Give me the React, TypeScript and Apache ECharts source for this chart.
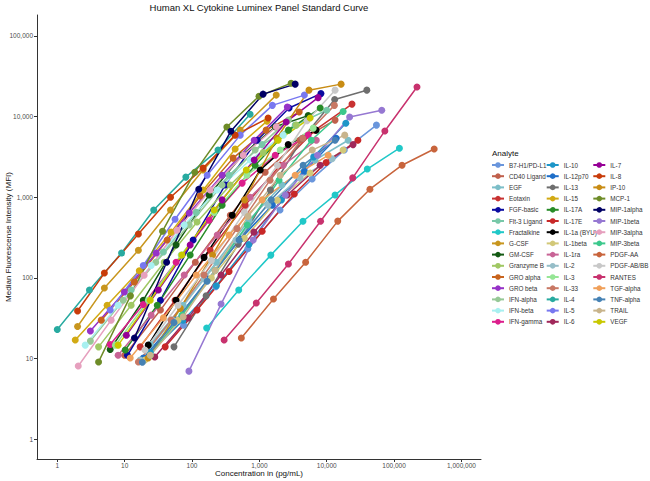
import React, { useEffect, useRef } from "react";
import * as echarts from "echarts";

const analytes: string[] = [
  "B7-H1/PD-L1", "CD40 Ligand", "EGF", "Eotaxin", "FGF-basic", "Flt-3 Ligand", "Fractalkine", "G-CSF", "GM-CSF", "Granzyme B", "GRO alpha", "GRO beta", "IFN-alpha", "IFN-beta", "IFN-gamma",
  "IL-10", "IL-12p70", "IL-13", "IL-15", "IL-17A", "IL-17E", "IL-1a (BYU)", "IL-1beta", "IL-1ra", "IL-2", "IL-3", "IL-33", "IL-4", "IL-5", "IL-6",
  "IL-7", "IL-8", "IP-10", "MCP-1", "MIP-1alpha", "MIP-1beta", "MIP-3alpha", "MIP-3beta", "PDGF-AA", "PDGF-AB/BB", "RANTES", "TGF-alpha", "TNF-alpha", "TRAIL", "VEGF",
];

const analyteColors: string[] = [
  "#6A96DC", "#C0604C", "#7CBEC8", "#C83232", "#0A0AA0", "#78C8A8", "#20C8C8", "#C8961E", "#145A14", "#A0C864", "#C8641E", "#9632C8", "#96C896", "#A8F0F0", "#DC1E8C",
  "#1E96C8", "#1E6EC8", "#6E6E6E", "#D2AA14", "#288C28", "#C82828", "#000000", "#D2C878", "#C86496", "#96BEC8", "#96E696", "#C87864", "#28AAA0", "#7878F0", "#A0285A",
  "#960096", "#C83C0A", "#C88C14", "#6E8C28", "#000064", "#9678D2", "#E6A0BE", "#3CC88C", "#C8643C", "#C8C8C8", "#C8326E", "#F0A05A", "#4682B4", "#C8B48C", "#C8C800",
];

// Standard concentrations (pg/mL), one list per analyte, same order as `analytes`
const concentrations: number[][] = [
  [75, 225, 675, 2025, 6075, 18225, 54675],
  [10, 34, 112, 370, 1220, 4000, 13300],
  [24, 74, 230, 700, 2170, 6700, 20800],
  [17, 56, 186, 616, 2040, 6700, 23700],
  [11, 34, 104, 310, 930, 2760, 8200],
  [12.5, 37.6, 116, 355, 1100, 3400, 10000],
  [165, 494, 1480, 4440, 13300, 40000, 120000],
  [2, 5, 16, 48, 146, 520, 1780],
  [6.1, 18.9, 58, 180, 555, 1720, 5300],
  [4.1, 12.5, 38.6, 119, 370, 1140, 3520],
  [4.5, 13.9, 42.8, 132, 408, 1260, 3900],
  [3.1, 9.9, 29.4, 91, 280, 838, 2600],
  [3.1, 9.5, 29, 91, 280, 865, 2700],
  [2.6, 8, 24.8, 76.6, 237, 730, 2260],
  [6.1, 18.9, 58, 180, 555, 1720, 5300],
  [24, 74, 230, 700, 2130, 6400, 19200],
  [18.9, 58, 174, 520, 1560, 4660, 13800],
  [54, 162, 486, 1458, 4374, 13122, 39366],
  [1.85, 5.5, 16.5, 49, 147, 437, 1300],
  [10.2, 30.5, 94, 280, 865, 2700, 8000],
  [40, 119, 355, 1100, 3300, 9800, 29000],
  [22.4, 58, 151, 395, 1030, 2680, 6950],
  [20, 62, 194, 600, 1850, 5670, 17500],
  [8, 24.8, 76.6, 237, 730, 2260, 7000],
  [17, 51, 151, 450, 1340, 4000, 12000],
  [7.3, 22.4, 69, 213, 655, 2040, 6300],
  [16, 49, 151, 465, 1440, 4400, 13000],
  [1, 3, 9, 27, 81, 243, 729],
  [6.1, 18.9, 56, 168, 520, 1560, 4660],
  [28, 88, 270, 830, 2600, 7980, 24600],
  [10.6, 31.6, 94, 280, 838, 2500, 7450],
  [2, 5, 16, 48, 146, 437, 1350],
  [22.4, 67, 202, 605, 1815, 5445, 16335],
  [4.1, 12.2, 36.5, 110, 329, 987, 2960],
  [14, 42, 126, 378, 1134, 3402],
  [90, 270, 810, 2430, 7290, 21870, 65610],
  [2.05, 6.3, 19.5, 60, 186, 575, 1780],
  [24, 71, 220, 660, 1960, 5900, 17500],
  [540, 1620, 4860, 14580, 43740, 131220, 393660],
  [20, 62, 194, 600, 1850, 5100, 13300],
  [300, 900, 2700, 8100, 24300, 72900, 218700],
  [12.1, 37.6, 116, 355, 1100, 3400, 10500],
  [18.3, 54, 168, 500, 1500, 4460, 13300],
  [24, 74, 220, 680, 2040, 6100, 18500],
  [8, 24, 71, 213, 640, 1900, 5670],
];

// Median fluorescence intensity, one list per analyte
const mfiValues: number[][] = [
  [26, 78, 230, 695, 1690, 3850, 7850],
  [11, 40, 157, 600, 2050, 5100, 9060],
  [15, 46, 157, 520, 1420, 2900, 5100],
  [14, 53, 221, 800, 2500, 6800, 14300],
  [11, 53, 295, 1420, 5100, 12800, 19300],
  [71, 210, 650, 1880, 4500, 7850, 12000],
  [24, 71, 192, 505, 1070, 2240, 4060],
  [25, 75, 221, 695, 2180, 6800, 18500],
  [13, 53, 257, 1070, 3320, 7500, 10300],
  [14, 46, 157, 495, 1420, 3600, 7850],
  [30, 89, 295, 1040, 3060, 6800, 11400],
  [22, 67, 204, 640, 1880, 5100, 13200],
  [16.5, 53, 157, 453, 1420, 3850, 9060],
  [14.7, 46, 143, 453, 1230, 2900, 5900],
  [15, 47, 157, 520, 1500, 3320, 5900],
  [12, 30, 80, 260, 930, 3170, 8300],
  [10.2, 30, 97, 303, 800, 2100, 5400],
  [14, 60, 263, 1230, 5400, 16300, 21300],
  [17, 46, 123, 370, 1230, 3970, 8800],
  [12.8, 46, 193, 800, 2500, 6800, 12800],
  [14, 40, 120, 380, 1100, 2700, 5100],
  [14.7, 53, 180, 600, 2180, 4500, 6800],
  [9.6, 30, 100, 310, 920, 2000, 3850],
  [11, 34.6, 109, 340, 1000, 2500, 5100],
  [9.6, 30, 97, 295, 800, 1740, 3000],
  [14.7, 53, 193, 650, 1880, 3850, 7200],
  [9.1, 30, 109, 410, 1630, 5400, 13800],
  [23, 71, 204, 695, 1780, 3850, 10700],
  [40, 143, 535, 1880, 5900, 13800, 18500],
  [10.5, 32, 109, 370, 1070, 2500, 4500],
  [19.5, 71, 257, 930, 2900, 8600, 17200],
  [39, 115, 350, 1000, 2300, 5900, 9600],
  [10.2, 42, 193, 930, 5400, 21300, 25300],
  [9.1, 60, 380, 2050, 7450, 17900, 26000],
  [18, 157, 1260, 6600, 19000, 25300],
  [7, 47.5, 295, 1070, 3320, 9900, 12000],
  [8.1, 30, 108, 390, 1230, 3320, 7500],
  [11, 34.6, 124, 453, 1630, 5100, 11600],
  [18, 55, 157, 507, 1260, 2500, 3970],
  [12.8, 46, 165, 650, 2500, 8900, 21300],
  [17, 49, 149, 505, 1740, 6650, 23300],
  [10.2, 32, 109, 340, 930, 1880, 3320],
  [9, 28, 91, 295, 930, 2500, 5100],
  [11, 33, 124, 580, 1880, 3850, 5900],
  [14.7, 53, 193, 695, 2180, 5100, 9600],
];

const FONT = "'Liberation Sans', Arial, sans-serif";

const fmt = (v: number) => Math.round(v).toLocaleString("en-US");

export default function App() {
  const ref = useRef<HTMLDivElement>(null);
  useEffect(() => {
    if (!ref.current) return;
    const chart = echarts.init(ref.current, undefined, { renderer: "svg" });
    const series = analytes.map((name, i) => ({
      name,
      type: "line",
      data: concentrations[i].map((c, j) => [c, mfiValues[i][j]]),
      symbol: "circle",
      symbolSize: 7,
      color: analyteColors[i],
      lineStyle: { width: 1.5, color: analyteColors[i] },
      itemStyle: { color: analyteColors[i] },
      emphasis: { disabled: true },
    }));
    const legendCommon = {
      orient: "vertical" as const,
      top: 161.5,
      padding: 0,
      itemWidth: 12,
      itemHeight: 7,
      itemGap: 4.2,
      textStyle: { fontSize: 6.3, color: "#333", fontFamily: FONT, lineHeight: 7 },
      selectedMode: false,
    };
    chart.setOption({
      animation: false,
      backgroundColor: "#ffffff",
      textStyle: { fontFamily: FONT },
      title: [
        {
          text: "Human XL Cytokine Luminex Panel Standard Curve",
          left: 259,
          top: 2,
          padding: 0,
          textAlign: "center",
          textStyle: { fontSize: 9.5, fontWeight: "normal", color: "#111", fontFamily: FONT },
        },
        {
          text: "Analyte",
          left: 492,
          top: 149,
          padding: 0,
          textStyle: { fontSize: 8, fontWeight: "normal", color: "#111", fontFamily: FONT },
        },
      ],
      legend: [
        { ...legendCommon, left: 491, data: analytes.slice(0, 15) },
        { ...legendCommon, left: 545.7, data: analytes.slice(15, 30) },
        { ...legendCommon, left: 592.3, data: analytes.slice(30, 45) },
      ],
      grid: { left: 37, right: 169, top: 15, bottom: 22, containLabel: false, outerBoundsMode: "none" },
      xAxis: {
        type: "log",
        logBase: 10,
        min: 0.5,
        max: 1950000,
        name: "Concentration in (pg/mL)",
        nameLocation: "middle",
        nameGap: 10,
        nameMoveOverlap: false,
        nameTextStyle: { fontSize: 8, color: "#111", fontFamily: FONT },
        axisLine: { lineStyle: { color: "#333", width: 1 } },
        axisTick: { length: 3, lineStyle: { color: "#333" } },
        axisLabel: { fontSize: 6.5, color: "#4D4D4D", margin: 3, formatter: fmt, showMinLabel: false, showMaxLabel: false },
        splitLine: { show: false },
      },
      yAxis: {
        type: "log",
        logBase: 10,
        min: 0.57,
        max: 182000,
        name: "Median Fluorescense Intensity (MFI)",
        nameLocation: "middle",
        nameGap: 25,
        nameMoveOverlap: false,
        nameRotate: 90,
        nameTextStyle: { fontSize: 8, color: "#111", fontFamily: FONT },
        axisLine: { show: true, lineStyle: { color: "#333", width: 1 } },
        axisTick: { show: true, length: 3, lineStyle: { color: "#333" } },
        axisLabel: { fontSize: 6.5, color: "#4D4D4D", margin: 4, formatter: fmt, showMinLabel: false, showMaxLabel: false },
        splitLine: { show: false },
      },
      series,
    });
    return () => chart.dispose();
  }, []);
  return (
    <div
      ref={ref}
      style={{ position: "fixed", left: 0, top: 0, width: 650, height: 481, background: "#fff" }}
    />
  );
}
